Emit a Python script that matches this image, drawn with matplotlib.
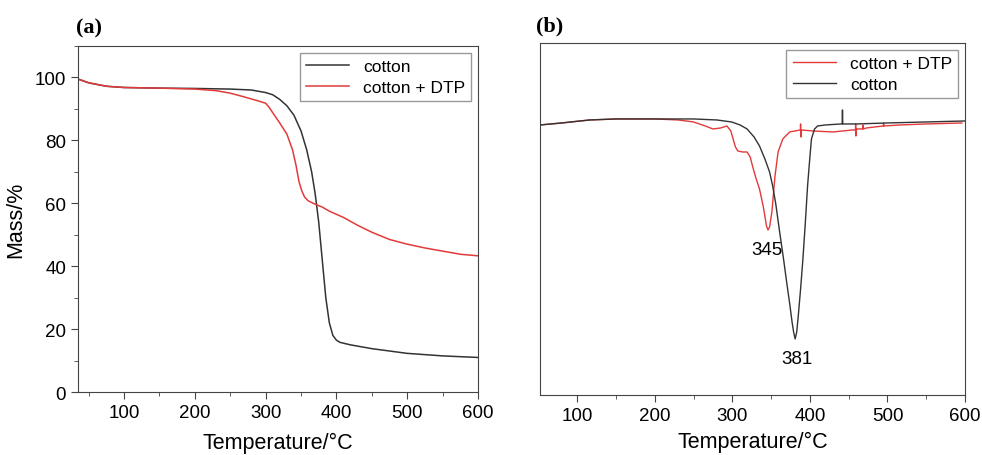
import numpy as np
import matplotlib
matplotlib.use('Agg')
from matplotlib import pyplot as plt
from matplotlib.ticker import MultipleLocator

plt.rcParams['font.family'] = ['Liberation Sans', 'DejaVu Sans']

# (a) TGA curves
tga_t_cotton = [35, 50, 75, 100, 150, 200, 250, 280, 300, 310, 320, 330, 340, 350, 358, 365, 370, 375, 380, 385, 390, 395,
                400, 405, 420, 450, 500, 550, 600]
tga_m_cotton = [99.5, 98.3, 97.2, 96.8, 96.6, 96.5, 96.3, 96.0, 95.2, 94.5, 93.0, 91.0, 88.0, 83.0, 77.0, 70.0, 63.0, 54.0,
                42.0, 30.0, 22.0, 18.0, 16.5, 15.8, 15.0, 13.8, 12.3, 11.5, 11.0]
tga_t_dtp = [35, 50, 75, 100, 150, 200, 230, 250, 270, 290, 300, 305, 310, 320, 330, 338, 343, 347, 351, 355, 360, 370, 380,
             390, 410, 430, 450, 475, 500, 525, 550, 575, 600]
tga_m_dtp = [99.5, 98.3, 97.2, 96.8, 96.6, 96.3, 95.8, 95.0, 93.8, 92.5, 91.8, 90.5, 88.8, 85.5, 82.0, 77.0, 72.0, 67.0,
             64.0, 62.0, 60.8, 59.7, 58.8, 57.5, 55.5, 53.0, 50.8, 48.5, 47.0, 45.8, 44.8, 43.8, 43.3]

# (b) DTG curves (arbitrary units)
dtg_t_cotton = [52, 80, 116, 150, 200, 250, 280, 299, 310, 319, 328, 335, 342, 348, 352, 356, 361, 366, 370, 374, 377, 379, 381,
                383, 385, 388, 391, 394, 397, 400, 402, 406, 410, 420, 440, 441.6, 442, 442.4, 460, 500, 550, 600]
dtg_y_cotton = [126, 124, 121, 120, 120, 120, 121, 123, 126, 130, 138, 147, 160, 173, 187, 205, 233, 260, 283, 305, 323, 333, 340,
                333, 317, 290, 260, 225, 187, 158, 140, 130, 127, 126, 125, 125, 111, 125, 125, 124, 123, 122]
dtg_t_dtp = [52, 80, 116, 150, 200, 230, 250, 265, 275, 285, 293, 298, 301, 304, 307, 313, 319, 323, 326, 330, 335, 340, 344, 346,
             348, 351, 355, 359, 365, 374, 387.7, 388, 388.3, 388.6, 404, 430, 455, 458.7, 459, 459.3, 459.6, 468, 468.3, 468.6,
             473, 494.7, 495, 495.3, 516, 550, 596]
dtg_y_dtp = [126, 124, 121, 120, 120, 121, 123, 127, 130, 129, 127, 132, 140, 148, 152, 153, 153, 158, 167, 178, 190, 208, 227, 231,
             228, 213, 177, 153, 140, 133, 131, 125, 138, 131, 132, 133, 131, 131, 125, 137, 130, 130, 126, 130,
             129, 127, 124, 127, 126, 125, 124]
dtg_y_cotton = [396 - v for v in dtg_y_cotton]
dtg_y_dtp = [396 - v for v in dtg_y_dtp]

black = '#333333'
red = '#e23a3a'

fig = plt.figure(figsize=(9.82, 4.56), dpi=100)
ax1 = fig.add_axes([0.0794, 0.138, 0.4074, 0.759])
ax2 = fig.add_axes([0.5499, 0.1316, 0.4328, 0.772])

ax1.plot(tga_t_cotton, tga_m_cotton, color=black, lw=1.1, label='cotton')
ax1.plot(tga_t_dtp, tga_m_dtp, color=red, lw=1.1, label='cotton + DTP')
ax1.set_xlim(35, 600)
ax1.set_ylim(0, 110)
ax1.xaxis.set_major_locator(MultipleLocator(100))
ax1.xaxis.set_minor_locator(MultipleLocator(50))
ax1.yaxis.set_major_locator(MultipleLocator(20))
ax1.yaxis.set_minor_locator(MultipleLocator(10))
ax1.set_xticks([100, 200, 300, 400, 500, 600])
ax1.set_xlabel('Temperature/\u00b0C', fontsize=15.5, labelpad=8)
ax1.set_ylabel('Mass/%', fontsize=15.5, labelpad=6)
ax1.legend(loc='upper right', fontsize=12.5, fancybox=False, edgecolor='#999999',
           handlelength=2.5, borderaxespad=0.4, framealpha=1, borderpad=0.35, labelspacing=0.35)
ax1.text(-0.005, 1.025, '(a)', transform=ax1.transAxes, fontsize=16, fontweight='bold',
         family='Liberation Serif', va='bottom', ha='left')

ax2.plot(dtg_t_dtp, dtg_y_dtp, color=red, lw=1.0, label='cotton + DTP')
ax2.plot(dtg_t_cotton, dtg_y_cotton, color=black, lw=1.0, label='cotton')
ax2.set_xlim(52, 600)
ax2.set_ylim(0, 352)
ax2.xaxis.set_major_locator(MultipleLocator(100))
ax2.xaxis.set_minor_locator(MultipleLocator(50))
ax2.set_yticks([])
ax2.set_xlabel('Temperature/\u00b0C', fontsize=15.5, labelpad=5)
ax2.legend(loc='upper right', fontsize=12.5, fancybox=False, edgecolor='#999999',
           handlelength=2.5, borderaxespad=0.4, framealpha=1, borderpad=0.35, labelspacing=0.35)
ax2.text(345, 145, '345', fontsize=13.5, ha='center', va='center')
ax2.text(383, 36, '381', fontsize=13.5, ha='center', va='center')
ax2.text(-0.01, 1.02, '(b)', transform=ax2.transAxes, fontsize=16, fontweight='bold',
         family='Liberation Serif', va='bottom', ha='left')

for ax in (ax1, ax2):
    for s in ax.spines.values():
        s.set_color('#444444')
    ax.tick_params(which='both', direction='out', labelsize=13.5, color='#444444')
    ax.tick_params(which='major', length=5)
    ax.tick_params(which='minor', length=3)

fig.savefig('out.png', dpi=100)
